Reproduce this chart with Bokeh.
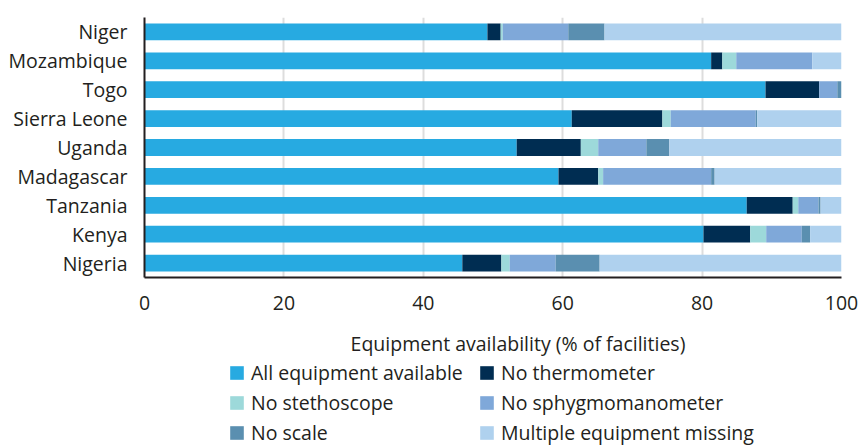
from bokeh.plotting import figure
from bokeh.models import (ColumnDataSource, Legend, LegendItem, FactorRange, Range1d,
                          FixedTicker, Label)
from bokeh.layouts import column
from bokeh.embed import file_html
from bokeh.resources import INLINE

countries = ["Niger", "Mozambique", "Togo", "Sierra Leone", "Uganda",
             "Madagascar", "Tanzania", "Kenya", "Nigeria"]
all_available = [49.2, 81.3, 89.1, 61.3, 53.4, 59.4, 86.4, 80.2, 45.6]
no_thermometer = [1.9, 1.6, 7.7, 13.0, 9.2, 5.7, 6.6, 6.7, 5.6]
no_stethoscope = [0.3, 2.0, 0.0, 1.2, 2.5, 0.7, 0.8, 2.3, 1.2]
no_sphygmomanometer = [9.4, 10.9, 2.6, 12.2, 6.9, 15.5, 2.9, 5.1, 6.6]
no_scale = [5.2, 0.0, 0.6, 0.2, 3.3, 0.5, 0.3, 1.2, 6.3]
multiple_missing = [34.0, 4.2, 0.0, 12.2, 24.7, 18.2, 3.0, 4.5, 34.7]

series_names = ["All equipment available", "No thermometer", "No stethoscope",
                "No sphygmomanometer", "No scale", "Multiple equipment missing"]
series_keys = ["all", "thermo", "steth", "sphyg", "scale", "multi"]
colors = ["#27AAE1", "#002D52", "#9DD9DA", "#7FA8D9", "#5A8FB0", "#AFD1EE"]
x_ticks = [0, 20, 40, 60, 80, 100]
x_title = "Equipment availability (% of facilities)"

FONT = "Open Sans"
FS = "19.5px"
TXT = "#231F20"

source = ColumnDataSource(dict(
    country=countries, all=all_available, thermo=no_thermometer, steth=no_stethoscope,
    sphyg=no_sphygmomanometer, scale=no_scale, multi=multiple_missing))

p = figure(width=859, height=320, output_backend="svg", toolbar_location=None,
           y_range=FactorRange(factors=list(reversed(countries))),
           x_range=Range1d(0, 100))
p.min_border_left = 144
p.min_border_right = 18
p.min_border_top = 17
p.min_border_bottom = 43
p.outline_line_color = None

p.hbar_stack(series_keys, y="country", height=0.58, color=colors,
             line_color=None, source=source)

p.xaxis.ticker = FixedTicker(ticks=x_ticks)
for ax in (p.xaxis[0], p.yaxis[0]):
    ax.major_tick_line_color = None
    ax.minor_tick_line_color = None
    ax.axis_line_color = TXT
    ax.axis_line_width = 2
    ax.major_label_text_font = FONT
    ax.major_label_text_font_size = FS
    ax.major_label_text_color = TXT
p.xaxis.major_label_standoff = 12
p.yaxis.major_label_standoff = 11

p.xgrid.grid_line_color = "#DDDDDD"
p.xgrid.grid_line_width = 2
p.ygrid.grid_line_color = None

# panel below the chart: axis title and legend (its bars fall outside its range)
lg = figure(width=859, height=126, output_backend="svg", toolbar_location=None,
            x_axis_location=None, y_axis_location=None,
            y_range=FactorRange(factors=["legend"]),
            x_range=Range1d(0, 100))
lg.min_border_left = 144
lg.min_border_right = 18
lg.min_border_top = 0
lg.min_border_bottom = 0
lg.outline_line_color = None
lg.xgrid.grid_line_color = None
lg.ygrid.grid_line_color = None
lg_renderers = lg.hbar_stack(series_keys, y="country", height=0.58, color=colors,
                             line_color=None, source=source)

lg.add_layout(Label(x=373.5, y=103, x_units="screen", y_units="screen", text=x_title,
                    text_font=FONT, text_font_size=FS, text_color=TXT,
                    text_align="center", text_baseline="middle"))

items = [LegendItem(label=n, renderers=[r]) for n, r in zip(series_names, lg_renderers)]
legend = Legend(items=items, orientation="horizontal", ncols=2, location=(84, 0),
                label_text_font=FONT, label_text_font_size=FS, label_text_color=TXT,
                glyph_width=17, glyph_height=17, label_height=20, label_width=224,
                label_standoff=6, spacing=3, padding=0, margin=0,
                border_line_color=None, background_fill_alpha=0)
lg.add_layout(legend, "center")

layout = column(p, lg, spacing=0)
open("out.html", "w").write(file_html(layout, INLINE))
